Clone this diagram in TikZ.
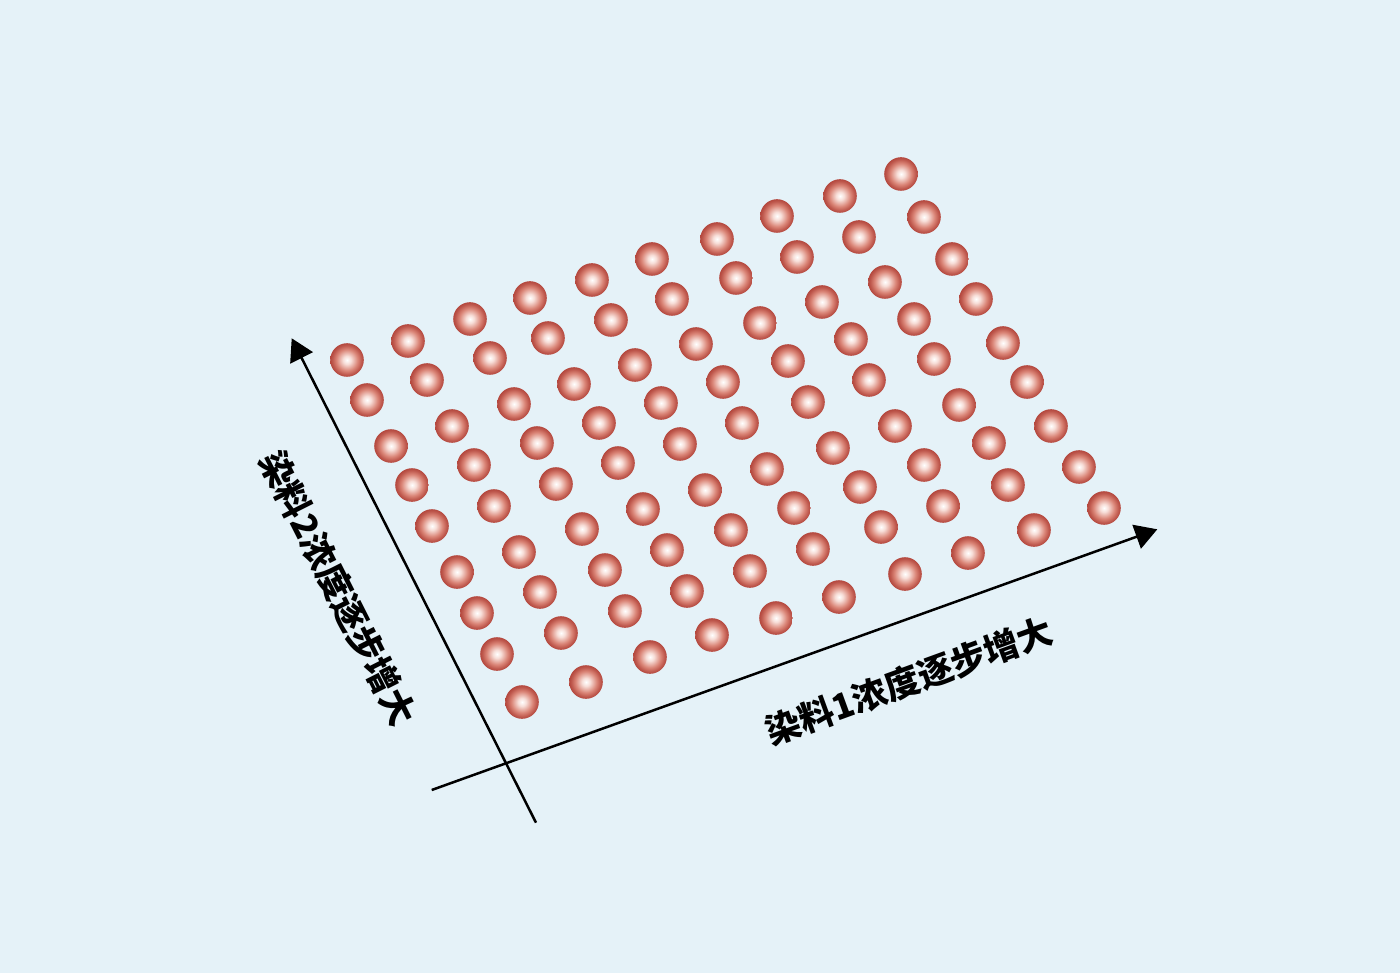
\documentclass[tikz,border=0pt]{standalone}
\usepackage{fontspec}
\newfontfamily\cjk{Noto Sans CJK SC Black}
\usepackage{xcolor}
\usetikzlibrary{arrows.meta}

\definecolor{bgblue}{RGB}{229,242,248}
\definecolor{dotrim}{RGB}{180,72,62}
\definecolor{dotmid}{RGB}{218,132,118}
\definecolor{dotlight}{RGB}{247,222,216}
% circle edge sits at 25bp of the shading
\pgfdeclareradialshading{dotball}{\pgfpoint{0bp}{0bp}}{color(0bp)=(white); color(6bp)=(dotlight); color(16bp)=(dotmid); color(22bp)=(dotrim!75!dotmid); color(25bp)=(dotrim); color(50bp)=(dotrim)}

\tikzset{
	dot/.style={shading=dotball},
	axis/.style={line width=2.5pt,-{Triangle[length=22pt,width=25pt]}},
	axislabel/.style={font=\cjk\fontsize{35}{35}\selectfont,inner sep=0pt}
}

\begin{document}
\begin{tikzpicture}[x=1pt,y=-1pt]
	\fill[bgblue] (0,0) rectangle (1400,973);
	\useasboundingbox (0,0) rectangle (1400,973);
	
	% row 1 (top)
	\shade[dot] (347,360) circle [radius=16.8];
	\shade[dot] (408,341) circle [radius=16.8];
	\shade[dot] (470,319) circle [radius=16.8];
	\shade[dot] (530,298) circle [radius=16.8];
	\shade[dot] (592,280) circle [radius=16.8];
	\shade[dot] (652,259) circle [radius=16.8];
	\shade[dot] (717,239) circle [radius=16.8];
	\shade[dot] (777,216) circle [radius=16.8];
	\shade[dot] (840,196) circle [radius=16.8];
	\shade[dot] (901,174) circle [radius=16.8];
	
	% row 2
	\shade[dot] (367,400) circle [radius=16.8];
	\shade[dot] (427,380) circle [radius=16.8];
	\shade[dot] (490,358) circle [radius=16.8];
	\shade[dot] (548,338) circle [radius=16.8];
	\shade[dot] (611,320) circle [radius=16.8];
	\shade[dot] (672,299) circle [radius=16.8];
	\shade[dot] (736,278) circle [radius=16.8];
	\shade[dot] (797,257) circle [radius=16.8];
	\shade[dot] (859,237) circle [radius=16.8];
	\shade[dot] (924,217) circle [radius=16.8];
	
	% row 3
	\shade[dot] (391,446) circle [radius=16.8];
	\shade[dot] (452,426) circle [radius=16.8];
	\shade[dot] (514,404) circle [radius=16.8];
	\shade[dot] (574,384) circle [radius=16.8];
	\shade[dot] (635,365) circle [radius=16.8];
	\shade[dot] (696,344) circle [radius=16.8];
	\shade[dot] (760,323) circle [radius=16.8];
	\shade[dot] (822,302) circle [radius=16.8];
	\shade[dot] (885,282) circle [radius=16.8];
	\shade[dot] (952,259) circle [radius=16.8];
	
	% row 4
	\shade[dot] (412,485) circle [radius=16.8];
	\shade[dot] (474,465) circle [radius=16.8];
	\shade[dot] (537,443) circle [radius=16.8];
	\shade[dot] (599,423) circle [radius=16.8];
	\shade[dot] (661,403) circle [radius=16.8];
	\shade[dot] (723,382) circle [radius=16.8];
	\shade[dot] (788,361) circle [radius=16.8];
	\shade[dot] (851,339) circle [radius=16.8];
	\shade[dot] (914,319) circle [radius=16.8];
	\shade[dot] (976,299) circle [radius=16.8];
	
	% row 5
	\shade[dot] (432,526) circle [radius=16.8];
	\shade[dot] (494,506) circle [radius=16.8];
	\shade[dot] (556,484) circle [radius=16.8];
	\shade[dot] (618,463) circle [radius=16.8];
	\shade[dot] (680,444) circle [radius=16.8];
	\shade[dot] (742,423) circle [radius=16.8];
	\shade[dot] (808,402) circle [radius=16.8];
	\shade[dot] (869,380) circle [radius=16.8];
	\shade[dot] (934,359) circle [radius=16.8];
	\shade[dot] (1003,343) circle [radius=16.8];
	
	% row 6
	\shade[dot] (457,572) circle [radius=16.8];
	\shade[dot] (519,552) circle [radius=16.8];
	\shade[dot] (582,529) circle [radius=16.8];
	\shade[dot] (643,509) circle [radius=16.8];
	\shade[dot] (705,490) circle [radius=16.8];
	\shade[dot] (767,469) circle [radius=16.8];
	\shade[dot] (833,448) circle [radius=16.8];
	\shade[dot] (895,426) circle [radius=16.8];
	\shade[dot] (959,405) circle [radius=16.8];
	\shade[dot] (1027,382) circle [radius=16.8];
	
	% row 7
	\shade[dot] (477,613) circle [radius=16.8];
	\shade[dot] (540,592) circle [radius=16.8];
	\shade[dot] (605,570) circle [radius=16.8];
	\shade[dot] (667,550) circle [radius=16.8];
	\shade[dot] (731,530) circle [radius=16.8];
	\shade[dot] (794,508) circle [radius=16.8];
	\shade[dot] (860,487) circle [radius=16.8];
	\shade[dot] (924,465) circle [radius=16.8];
	\shade[dot] (989,443) circle [radius=16.8];
	\shade[dot] (1051,426) circle [radius=16.8];
	
	% row 8
	\shade[dot] (497,654) circle [radius=16.8];
	\shade[dot] (561,633) circle [radius=16.8];
	\shade[dot] (625,611) circle [radius=16.8];
	\shade[dot] (687,591) circle [radius=16.8];
	\shade[dot] (750,571) circle [radius=16.8];
	\shade[dot] (813,549) circle [radius=16.8];
	\shade[dot] (881,527) circle [radius=16.8];
	\shade[dot] (943,506) circle [radius=16.8];
	\shade[dot] (1008,485) circle [radius=16.8];
	\shade[dot] (1079,467) circle [radius=16.8];
	
	% row 9 (bottom)
	\shade[dot] (522,702) circle [radius=16.8];
	\shade[dot] (586,682) circle [radius=16.8];
	\shade[dot] (650,657) circle [radius=16.8];
	\shade[dot] (712,635) circle [radius=16.8];
	\shade[dot] (776,618) circle [radius=16.8];
	\shade[dot] (839,597) circle [radius=16.8];
	\shade[dot] (905,574) circle [radius=16.8];
	\shade[dot] (968,553) circle [radius=16.8];
	\shade[dot] (1034,530) circle [radius=16.8];
	\shade[dot] (1104,508) circle [radius=16.8];
	
	% axes
	\coordinate (dyeonestart) at (431.7,790);
	\coordinate (dyeoneend) at (1157.3,529.3);
	\coordinate (dyetwostart) at (536,822.7);
	\coordinate (dyetwoend) at (291.7,338.3);
	\draw[axis] (dyeonestart) -- (dyeoneend);
	\draw[axis] (dyetwostart) -- (dyetwoend);
	
	\node[axislabel,rotate=20] (dyeonelabel) at (909,681) {染料1浓度逐步增大};
	\node[axislabel,rotate=-63.2] (dyetwolabel) at (338,588) {染料2浓度逐步增大};
\end{tikzpicture}
\end{document}
